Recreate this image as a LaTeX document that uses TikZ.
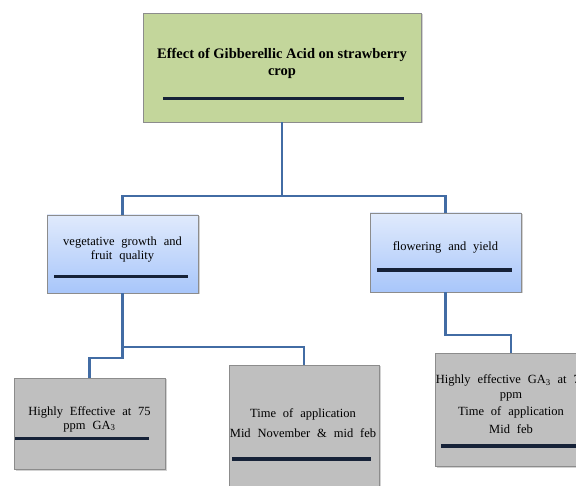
\documentclass[tikz,border=0pt]{standalone}
\usepackage{fontspec}
\setmainfont{Liberation Serif}
\usetikzlibrary{shadows}
\definecolor{topgreen}{RGB}{195,214,155}
\definecolor{bluetop}{RGB}{224,234,252}
\definecolor{bluebot}{RGB}{168,198,250}
\definecolor{boxgrey}{RGB}{191,191,191}
\definecolor{conncol}{RGB}{66,108,164}
\definecolor{barcol}{RGB}{22,34,56}
\definecolor{edgegrey}{RGB}{140,140,140}
\newcommand{\wsp}{\spaceskip=0.55em plus 0.1em\relax}
\tikzset{
  x=1pt, y=-1pt,
  box/.style={draw=edgegrey, line width=0.8pt, inner sep=0pt,
    drop shadow={shadow xshift=1.5pt, shadow yshift=-1.5pt, opacity=0.35}},
  greenbox/.style={box, fill=topgreen},
  bluebox/.style={box, top color=bluetop, bottom color=bluebot},
  greybox/.style={box, fill=boxgrey},
  conn/.style={draw=conncol, line width=2.6pt},
  bar/.style={draw=barcol, line width=3.6pt},
  txt/.style={align=center, inner sep=0pt, font=\fontsize{12.5}{14}\selectfont},
}
\begin{document}
\begin{tikzpicture}
\useasboundingbox (0,0) rectangle (576,486);
\clip (0,0) rectangle (576,486);
\fill[white] (0,0) rectangle (576,486);
% boxes
\node[greenbox, minimum width=278pt, minimum height=109pt] (top) at (282,67.5) {};
\node[bluebox, minimum width=151pt, minimum height=78pt] (left) at (122.5,254) {};
\node[bluebox, minimum width=151pt, minimum height=79pt] (right) at (445.5,252.5) {};
\node[greybox, minimum width=151pt, minimum height=91pt] (bl) at (89.5,423.5) {};
\node[greybox, minimum width=150pt, minimum height=125pt] (bm) at (304,427.5) {};
\node[greybox, minimum width=152pt, minimum height=113pt] (br) at (511,409.5) {};
% connectors
\coordinate (j0) at (282,196);
\draw[conn] (top.south) -- (j0) -| (left.north);
\draw[conn] (j0) -| (right.north);
\draw[conn] (left.south) -- (left.south |- 0,347) -| (bm.north);
\draw[conn] (left.south |- 0,346) -- (left.south |- 0,358) -| (bl.north);
\draw[conn] (right.south) -- (right.south |- 0,335) -| (br.north);
% bars
\draw[bar] (163,98.5) -- (404,98.5);
\draw[bar] (54,276.5) -- (188,276.5);
\draw[bar] (377,270) -- (512,270);
\draw[bar] (15,438.5) -- (149,438.5);
\draw[bar] (232,459) -- (371,459);
\draw[bar] (441,446) -- (590,446);
% texts
\node[txt, font=\bfseries\fontsize{14.5}{17}\selectfont] (toptext) at (282,63.5)
  {Effect of Gibberellic Acid on strawberry\\crop};
\node[txt] (lefttext) at (122.5,249.5) {\wsp vegetative growth and\\\wsp fruit quality};
\node[txt] (righttext) at (445.5,247.5) {\wsp flowering and yield};
\node[txt] (bltext) at (89.5,419) {\wsp Highly Effective at 75\\\wsp ppm GA\textsubscript{3}};
\node[txt, font=\fontsize{12.5}{20.5}\selectfont] (bmtext) at (303,423) {\wsp Time of application\\\wsp Mid November \& mid feb};
\node[txt, font=\fontsize{12.5}{17.3}\selectfont] (brtext) at (511,404)
  {\wsp Highly effective GA\textsubscript{3} at 75\\[-2pt]\wsp ppm\\\wsp Time of application\\\wsp Mid feb};
\end{tikzpicture}
\end{document}
